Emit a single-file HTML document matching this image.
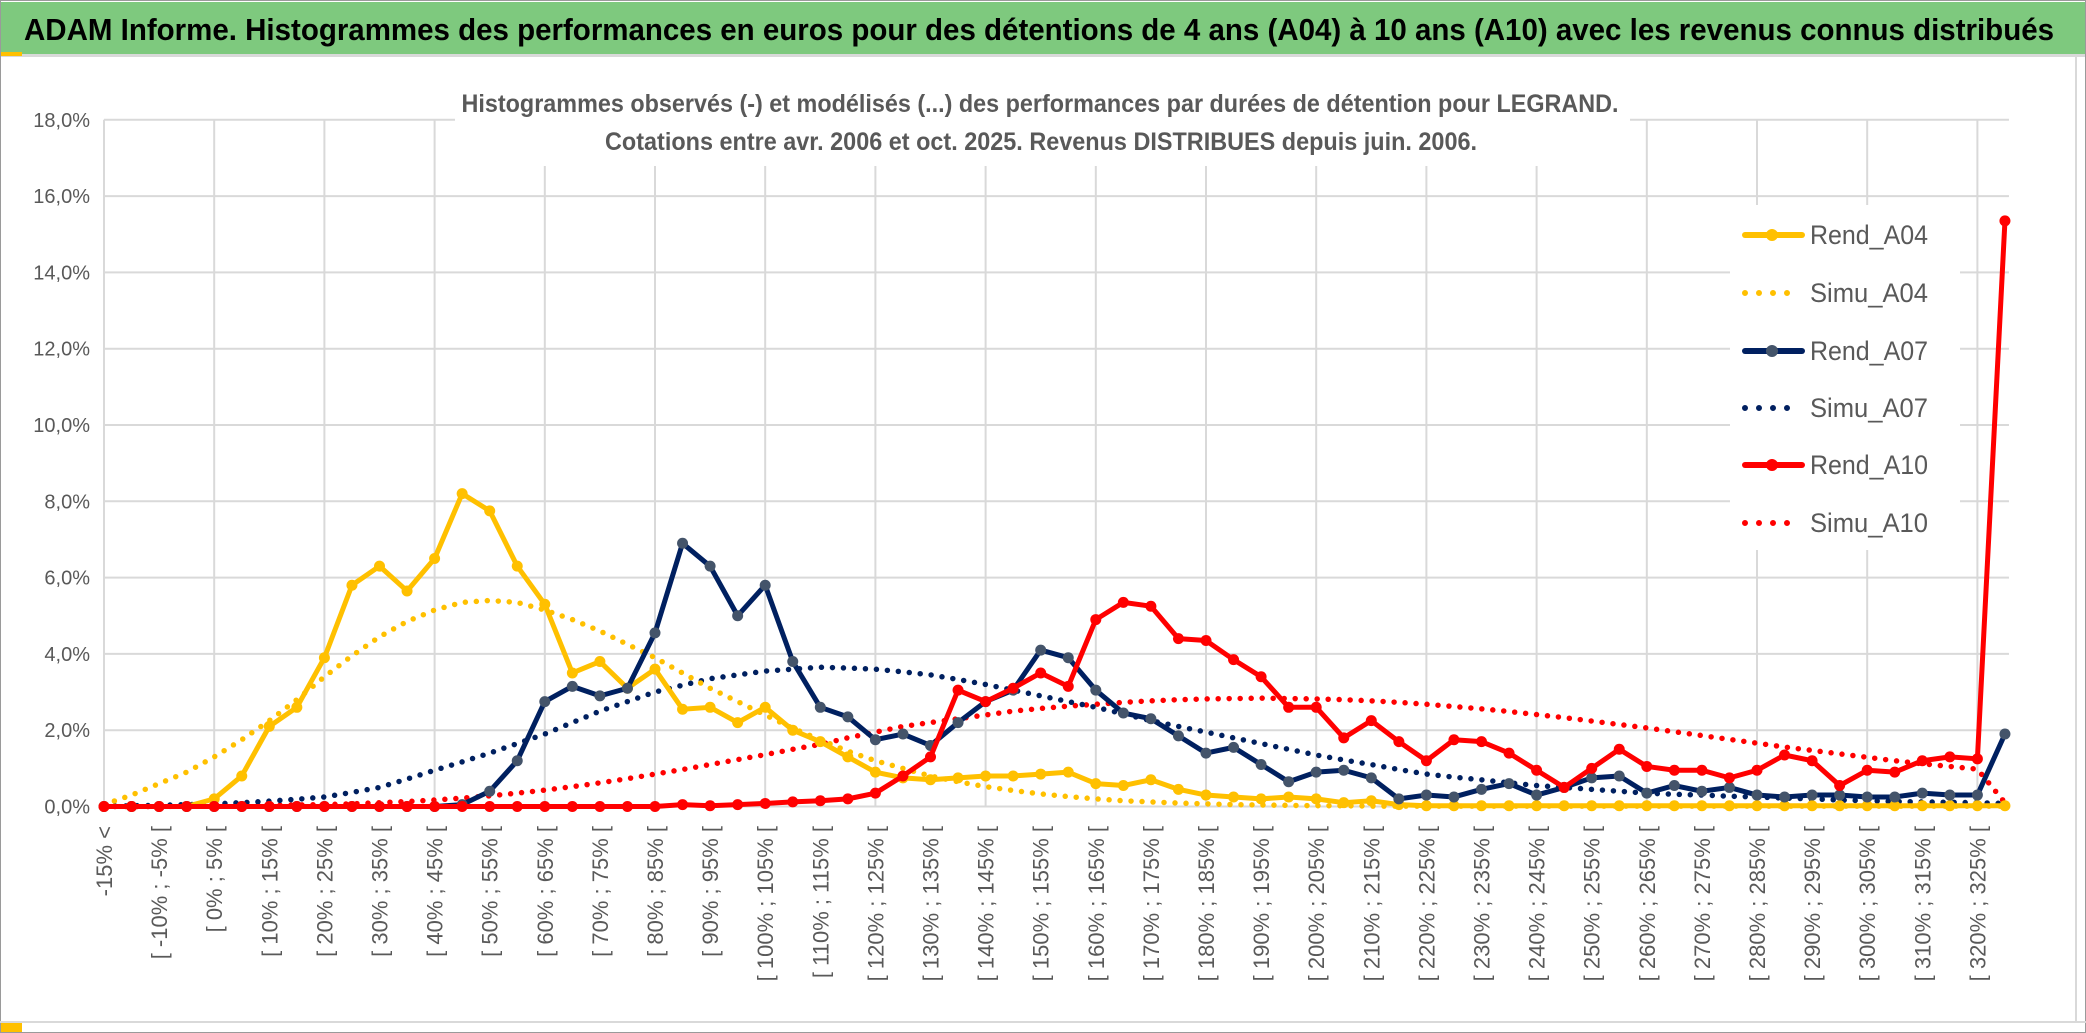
<!DOCTYPE html>
<html><head><meta charset="utf-8"><style>
body{margin:0;background:#fff;}
svg{display:block;font-family:"Liberation Sans Narrow","Liberation Sans",sans-serif;}
</style></head><body>
<svg id="chart" width="2086" height="1033" viewBox="0 0 2086 1033" xmlns="http://www.w3.org/2000/svg">
<rect x="0" y="0" width="2086" height="1033" fill="#fff"/>
<rect x="0.5" y="0.5" width="2085" height="1032" fill="none" stroke="#9a9a9a"/>
<rect x="1" y="2" width="2084" height="52" fill="#7ec97e"/>
<rect x="1" y="54" width="2084" height="3" fill="#d9d9d9"/>
<rect x="1" y="52" width="21" height="4" fill="#ffc000"/>
<rect x="1" y="1023" width="21" height="9" fill="#ffc000"/>
<line x1="0" y1="1022" x2="2086" y2="1022" stroke="#d9d9d9" stroke-width="2"/>
<line x1="2076" y1="57" x2="2076" y2="1022" stroke="#d9d9d9" stroke-width="2"/>
<text x="24" y="40" font-size="31" font-weight="bold" fill="#000" textLength="2030" lengthAdjust="spacingAndGlyphs">ADAM Informe. Histogrammes des performances en euros pour des détentions de 4 ans (A04) à 10 ans (A10) avec les revenus connus distribués</text>
<g id="grid"></g>
<rect x="455" y="84" width="1175" height="82" fill="#fff"/>
<text x="1040" y="112" text-anchor="middle" font-size="25" font-weight="bold" fill="#595959" textLength="1157" lengthAdjust="spacingAndGlyphs">Histogrammes observés (-) et modélisés (...) des performances par durées de détention pour LEGRAND.</text>
<text x="1041" y="150" text-anchor="middle" font-size="25" font-weight="bold" fill="#595959" textLength="872" lengthAdjust="spacingAndGlyphs">Cotations entre avr. 2006 et oct. 2025. Revenus DISTRIBUES depuis juin. 2006.</text>
<g id="axes"></g>
<g id="series"></g>
<g id="legend"></g>
</svg>
<script>
const yTicks = [0,2,4,6,8,10,12,14,16,18];
const rendA04 = [0,0,0,0,0.2,0.8,2.1,2.6,3.9,5.8,6.3,5.65,6.5,8.2,7.75,6.3,5.3,3.5,3.8,3.1,3.6,2.55,2.6,2.2,2.6,2.0,1.7,1.3,0.9,0.75,0.7,0.75,0.8,0.8,0.85,0.9,0.6,0.55,0.7,0.45,0.3,0.25,0.2,0.25,0.2,0.1,0.15,0.05,0.02,0.02,0.02,0.02,0.02,0.02,0.02,0.02,0.02,0.02,0.02,0.02,0.02,0.02,0.02,0.02,0.02,0.02,0.02,0.02,0.02,0.02];
const simuA04 = [0.05,0.3,0.6,0.9,1.3,1.75,2.25,2.8,3.4,3.95,4.45,4.85,5.15,5.35,5.4,5.35,5.15,4.9,4.6,4.25,3.9,3.5,3.1,2.75,2.4,2.05,1.75,1.45,1.2,1.0,0.8,0.65,0.52,0.42,0.33,0.26,0.2,0.15,0.12,0.09,0.07,0.05,0.04,0.03,0.02,0.02,0.01,0.01,0.01,0.01,0.01,0.01,0.01,0.01,0.01,0.01,0.01,0.01,0.01,0.01,0.01,0.01,0.01,0.01,0.01,0.01,0.01,0.01,0.01,0.01];
const rendA07 = [0,0,0,0,0,0,0,0,0,0,0,0,0,0.05,0.4,1.2,2.75,3.15,2.9,3.1,4.55,6.9,6.3,5.0,5.8,3.8,2.6,2.35,1.75,1.9,1.6,2.2,2.75,3.05,4.1,3.9,3.05,2.45,2.3,1.85,1.4,1.55,1.1,0.65,0.9,0.95,0.75,0.2,0.3,0.25,0.45,0.6,0.3,0.5,0.75,0.8,0.35,0.55,0.4,0.5,0.3,0.25,0.3,0.3,0.25,0.25,0.35,0.3,0.3,1.9];
const simuA07 = [0.01,0.02,0.03,0.05,0.07,0.1,0.14,0.19,0.25,0.37,0.5,0.72,0.95,1.17,1.4,1.65,1.9,2.2,2.5,2.75,3.0,3.18,3.35,3.45,3.55,3.6,3.65,3.63,3.6,3.53,3.45,3.33,3.2,3.05,2.9,2.75,2.6,2.43,2.25,2.1,1.95,1.8,1.65,1.5,1.35,1.22,1.1,0.97,0.85,0.77,0.7,0.62,0.55,0.5,0.45,0.4,0.35,0.32,0.3,0.27,0.25,0.22,0.2,0.17,0.15,0.13,0.12,0.11,0.1,0.08];
const rendA10 = [0,0,0,0,0,0,0,0,0,0,0,0,0,0,0,0,0,0,0,0,0,0.05,0.02,0.05,0.08,0.12,0.15,0.2,0.35,0.8,1.3,3.05,2.75,3.1,3.5,3.15,4.9,5.35,5.25,4.4,4.35,3.85,3.4,2.6,2.6,1.8,2.25,1.7,1.2,1.75,1.7,1.4,0.95,0.5,1.0,1.5,1.05,0.95,0.95,0.75,0.95,1.35,1.2,0.55,0.95,0.9,1.2,1.3,1.25,15.35];
const simuA10 = [0,0,0,0.01,0.01,0.02,0.03,0.04,0.05,0.07,0.1,0.13,0.17,0.22,0.28,0.35,0.43,0.52,0.62,0.73,0.85,0.97,1.1,1.23,1.36,1.5,1.63,1.8,1.95,2.1,2.2,2.3,2.4,2.5,2.57,2.63,2.68,2.73,2.77,2.8,2.82,2.83,2.84,2.83,2.82,2.8,2.77,2.73,2.68,2.62,2.56,2.49,2.41,2.33,2.24,2.15,2.06,1.96,1.86,1.76,1.66,1.56,1.47,1.38,1.29,1.2,1.12,1.05,0.98,0.1];
const categories = ["-15% <"];
for (let i = 1; i < 69; i++) categories.push("[ " + (-20 + 5 * i) + "% ; " + (-15 + 5 * i) + "% [");
categories.push("325% <");

const NS = "http://www.w3.org/2000/svg";
const X0 = 104, XSTEP = 27.55, Y0 = 806.5, YPER = 38.15;
const xs = i => X0 + i * XSTEP;
const ys = v => Y0 - v * YPER;
function mk(tag, attrs, parent) {
  const e = document.createElementNS(NS, tag);
  for (const k in attrs) e.setAttribute(k, attrs[k]);
  parent.appendChild(e);
  return e;
}
const grid = document.getElementById('grid');
const axes = document.getElementById('axes');
const series = document.getElementById('series');
const legend = document.getElementById('legend');

yTicks.forEach(t => {
  const l = mk('line', {x1: X0, x2: xs(69) + 4, y1: ys(t), y2: ys(t), stroke: '#d9d9d9', 'stroke-width': 2}, grid);
  
  
  const tx = mk('text', {x: 90, y: ys(t) + 7, 'text-anchor': 'end', 'font-size': 20, fill: '#595959'}, axes);
  tx.textContent = t.toFixed(1).replace('.', ',') + '%';
  
  
});
for (let i = 0; i < categories.length; i += 4) {
  const l = mk('line', {x1: xs(i), x2: xs(i), y1: ys(18), y2: ys(0), stroke: '#d9d9d9', 'stroke-width': 2}, grid);
  
  
}
categories.forEach((c, i) => {
  if (i % 2) return;
  const x = xs(i) + 8;
  const tx = mk('text', {x: x, y: 826, 'text-anchor': 'end', 'font-size': 22, fill: '#595959', transform: 'rotate(-90 ' + x + ' 826)', 'font-family': '"Liberation Sans",sans-serif'}, axes);
  tx.textContent = c;
  
  
});

function drawDotted(data, color, name) {
  const p = mk('polyline', {points: data.map((v, i) => xs(i) + ',' + ys(v)).join(' '), fill: 'none', stroke: color, 'stroke-width': 5.5, 'stroke-linecap': 'round', 'stroke-dasharray': '0 11'}, series);
  
  
}
function drawSolid(data, color, mcolor, name) {
  const g = mk('g', {}, series);
  
  
  mk('polyline', {points: data.map((v, i) => xs(i) + ',' + ys(v)).join(' '), fill: 'none', stroke: color, 'stroke-width': 5, 'stroke-linejoin': 'round'}, g);
  data.forEach((v, i) => {
    const c = mk('circle', {cx: xs(i), cy: ys(v), r: 5.5, fill: mcolor}, g);
    
    
  });
}
drawDotted(simuA10, '#ff0000', 'simu-a10-line');
drawDotted(simuA07, '#002060', 'simu-a07-line');
drawDotted(simuA04, '#ffc000', 'simu-a04-line');
drawSolid(rendA04, '#ffc000', '#ffc000', 'rend-a04-line');
drawSolid(rendA07, '#002060', '#44546a', 'rend-a07-line');
drawSolid(rendA10, '#ff0000', '#ff0000', 'rend-a10-line');

mk('rect', {x: 1730, y: 205, width: 230, height: 345, fill: '#fff'}, legend);
const legNames = ['Rend_A04', 'Simu_A04', 'Rend_A07', 'Simu_A07', 'Rend_A10', 'Simu_A10'];
const legColors = ['#ffc000', '#ffc000', '#002060', '#002060', '#ff0000', '#ff0000'];
const legMarker = ['#ffc000', null, '#44546a', null, '#ff0000', null];
const legY = [235, 293, 351, 408, 465, 523];
legNames.forEach((n, k) => {
  const g = mk('g', {}, legend);
  
  
  const y = legY[k];
  if (legMarker[k]) {
    mk('line', {x1: 1745, x2: 1802, y1: y, y2: y, stroke: legColors[k], 'stroke-width': 6, 'stroke-linecap': 'round'}, g);
    mk('circle', {cx: 1772, cy: y, r: 6, fill: legMarker[k]}, g);
  } else {
    mk('line', {x1: 1745, x2: 1795, y1: y, y2: y, stroke: legColors[k], 'stroke-width': 6, 'stroke-linecap': 'round', 'stroke-dasharray': '0 14'}, g);
  }
  const t = mk('text', {x: 1810, y: y + 9, 'font-size': 27, fill: '#595959', textLength: 118, lengthAdjust: 'spacingAndGlyphs'}, g);
  t.textContent = n;
});
</script>
</body></html>
